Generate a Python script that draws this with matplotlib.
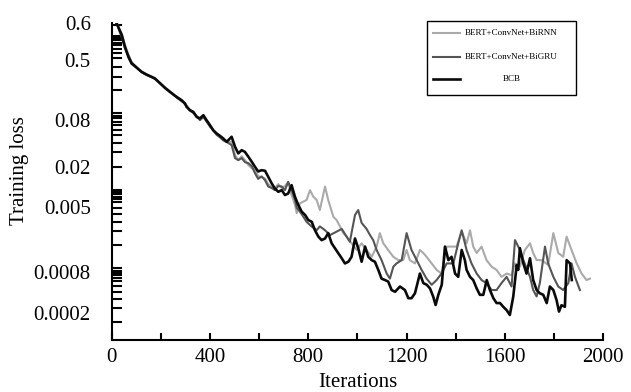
import numpy as np
import matplotlib
matplotlib.use("Agg")
import matplotlib.pyplot as plt
from matplotlib.lines import Line2D
from matplotlib.patches import Rectangle

plt.rcParams['font.family'] = ['Liberation Serif', 'DejaVu Serif']

# (iteration, training loss)
birnn = [(20, 0.600), (41, 0.570), (54, 0.540), (68, 0.515), (81, 0.462), (102, 0.405),
         (122, 0.352), (142, 0.325), (163, 0.302), (176, 0.29), (197, 0.248), (217, 0.218),
         (237, 0.192), (251, 0.172), (264, 0.165), (285, 0.145), (298, 0.13), (305, 0.122),
         (318, 0.106), (332, 0.101), (346, 0.087), (359, 0.082), (373, 0.090), (386, 0.078),
         (400, 0.068), (413, 0.058), (427, 0.053), (441, 0.049), (454, 0.045), (468, 0.043),
         (488, 0.0418), (502, 0.0285), (515, 0.0246), (529, 0.0277), (542, 0.0246), (556, 0.0212),
         (570, 0.0193), (583, 0.018), (596, 0.0146), (610, 0.0141), (624, 0.0135), (637, 0.0111),
         (651, 0.0100), (664, 0.0097), (678, 0.0111), (692, 0.0097), (705, 0.0104), (718, 0.0119),
         (732, 0.0076), (746, 0.0054), (753, 0.0042), (766, 0.0057), (793, 0.0064), (807, 0.0090),
         (820, 0.0072), (834, 0.0064), (847, 0.0046), (868, 0.0102), (881, 0.0064), (902, 0.0038),
         (915, 0.00347), (929, 0.0029), (942, 0.0024), (956, 0.00217), (976, 0.0018), (997, 0.00149),
         (1017, 0.0018), (1037, 0.00149), (1058, 0.00123), (1078, 0.00164), (1091, 0.0024),
         (1105, 0.0018), (1125, 0.00149), (1146, 0.00123), (1166, 0.00112), (1186, 0.00112),
         (1200, 0.00149), (1213, 0.00112), (1234, 0.00102), (1254, 0.00149), (1268, 0.00137),
         (1281, 0.00123), (1302, 0.00102), (1322, 0.00085), (1342, 0.00076), (1363, 0.00164),
         (1383, 0.00164), (1403, 0.00164), (1424, 0.0025), (1444, 0.0018), (1458, 0.0026),
         (1471, 0.00164), (1485, 0.00137), (1505, 0.00164), (1525, 0.00112), (1546, 0.00093),
         (1566, 0.00085), (1586, 0.00068), (1607, 0.00076), (1627, 0.00072), (1641, 0.00102),
         (1661, 0.00093), (1681, 0.00149), (1702, 0.0018), (1715, 0.00137), (1729, 0.00112),
         (1749, 0.00112), (1776, 0.00098), (1797, 0.0024), (1817, 0.00137), (1837, 0.00123),
         (1851, 0.00217), (1871, 0.00149), (1892, 0.00102), (1912, 0.00076), (1932, 0.00061),
         (1946, 0.00064)]

bigru = [(20, 0.600), (41, 0.560), (54, 0.530), (68, 0.512), (81, 0.47), (102, 0.40),
         (122, 0.345), (142, 0.318), (163, 0.296), (176, 0.282), (197, 0.25), (217, 0.212),
         (237, 0.188), (251, 0.178), (264, 0.160), (285, 0.142), (298, 0.135), (305, 0.124),
         (318, 0.108), (332, 0.100), (346, 0.090), (359, 0.080), (373, 0.088), (386, 0.077),
         (400, 0.066), (413, 0.060), (427, 0.052), (441, 0.048), (454, 0.044), (468, 0.042),
         (488, 0.0383), (502, 0.0261), (515, 0.0246), (529, 0.0261), (542, 0.0232), (556, 0.0225),
         (570, 0.0206), (583, 0.0162), (596, 0.0133), (610, 0.0145), (624, 0.0127), (637, 0.0102),
         (651, 0.0097), (664, 0.0090), (678, 0.0104), (692, 0.0102), (705, 0.0090), (718, 0.0120),
         (732, 0.0090), (746, 0.0064), (753, 0.0049), (766, 0.0044), (780, 0.0038), (793, 0.0033),
         (813, 0.0029), (834, 0.0026), (847, 0.0029), (868, 0.0026), (888, 0.00227), (915, 0.0025),
         (936, 0.0027), (956, 0.00217), (969, 0.00188), (990, 0.0040), (1003, 0.0046),
         (1017, 0.0032), (1037, 0.0027), (1051, 0.00227), (1064, 0.00197), (1078, 0.00149),
         (1098, 0.00112), (1119, 0.00076), (1132, 0.00064), (1146, 0.00093), (1159, 0.00102),
         (1180, 0.00112), (1200, 0.0024), (1220, 0.00149), (1241, 0.00112), (1261, 0.00085),
         (1281, 0.00064), (1302, 0.00052), (1322, 0.00061), (1342, 0.00076), (1363, 0.00102),
         (1390, 0.00102), (1410, 0.0018), (1424, 0.0026), (1444, 0.00149), (1464, 0.00102),
         (1485, 0.00076), (1505, 0.00061), (1525, 0.00055), (1546, 0.000435), (1566, 0.000435),
         (1586, 0.00055), (1607, 0.00068), (1627, 0.00049), (1641, 0.00197), (1661, 0.00149),
         (1675, 0.00112), (1702, 0.00068), (1715, 0.000435), (1729, 0.00035), (1742, 0.00055),
         (1763, 0.00164), (1776, 0.00102), (1797, 0.00068), (1817, 0.00049), (1837, 0.000435),
         (1858, 0.00055), (1871, 0.00102), (1885, 0.00068), (1905, 0.000435)]

bcb = [(20, 0.600), (41, 0.566), (54, 0.534), (68, 0.508), (81, 0.452), (102, 0.397),
       (122, 0.350), (142, 0.322), (163, 0.300), (176, 0.286), (197, 0.246), (217, 0.215),
       (237, 0.190), (251, 0.175), (264, 0.163), (285, 0.147), (298, 0.133), (305, 0.120),
       (318, 0.109), (332, 0.103), (346, 0.0885), (359, 0.0845), (373, 0.093), (386, 0.080),
       (400, 0.069), (413, 0.0596), (427, 0.054), (441, 0.0503), (454, 0.0466), (468, 0.0422),
       (488, 0.049), (502, 0.0364), (515, 0.030), (529, 0.033), (542, 0.0314), (556, 0.0272),
       (570, 0.0234), (583, 0.0202), (596, 0.0172), (610, 0.018), (624, 0.0176), (637, 0.0143),
       (651, 0.0114), (664, 0.0095), (678, 0.0085), (692, 0.0090), (705, 0.0076), (718, 0.0080),
       (732, 0.0107), (746, 0.0071), (759, 0.0054), (773, 0.0044), (787, 0.0040), (800, 0.00347),
       (814, 0.0033), (827, 0.0026), (841, 0.00217), (854, 0.00197), (868, 0.00206), (881, 0.0024),
       (895, 0.0018), (908, 0.00157), (922, 0.00136), (936, 0.00118), (949, 0.00102),
       (963, 0.00107), (976, 0.00123), (990, 0.00206), (1003, 0.00157), (1017, 0.00107),
       (1031, 0.00164), (1044, 0.00123), (1058, 0.00112), (1071, 0.00107), (1085, 0.000846),
       (1098, 0.00064), (1112, 0.00061), (1125, 0.00058), (1139, 0.000435), (1153, 0.00041),
       (1173, 0.00049), (1193, 0.000435), (1207, 0.00033), (1220, 0.00033), (1234, 0.00039),
       (1254, 0.00076), (1268, 0.00055), (1282, 0.00052), (1295, 0.00046), (1308, 0.00035),
       (1318, 0.000262), (1329, 0.00037), (1343, 0.00052), (1356, 0.00164), (1370, 0.00112),
       (1383, 0.00123), (1397, 0.00076), (1410, 0.00068), (1424, 0.00149), (1437, 0.00112),
       (1444, 0.00085), (1458, 0.00068), (1471, 0.00061), (1485, 0.00046), (1498, 0.00037),
       (1512, 0.00037), (1526, 0.00061), (1539, 0.000435), (1553, 0.00033), (1566, 0.00028),
       (1580, 0.00028), (1593, 0.000247), (1607, 0.00022), (1620, 0.000187), (1634, 0.00035),
       (1648, 0.000975), (1654, 0.00085), (1661, 0.00157), (1675, 0.00102), (1688, 0.00076),
       (1702, 0.00118), (1715, 0.00061), (1729, 0.000435), (1742, 0.00039), (1756, 0.00037),
       (1770, 0.00028), (1783, 0.00049), (1797, 0.000435), (1810, 0.00031), (1820, 0.00021),
       (1830, 0.00026), (1844, 0.000247), (1851, 0.00112), (1865, 0.00102), (1872, 0.00061)]

labels = ['BERT+ConvNet+BiRNN', 'BERT+ConvNet+BiGRU', 'BCB']
colors = ['#aaaaaa', '#555555', '#0a0a0a']
widths = [1.5, 1.5, 1.9]

# the paper's y axis is a hand-made, piecewise log axis
ytick_vals = [0.6, 0.5, 0.08, 0.02, 0.005, 0.0008, 0.0002]
anchor_vals = [1e-8, 8.0e-5, 2e-4, 8e-4, 5e-3, 2e-2, 8e-2, 0.5, 0.6, 100.0]
anchor_pos = [-3.0, 0.0, 0.0852, 0.2145, 0.4196, 0.5457, 0.6940, 0.8833, 1.0, 3.0]
L = np.log10(anchor_vals)
P = np.array(anchor_pos)


def fwd(v):
    v = np.asarray(v, dtype=float)
    return np.interp(np.log10(np.clip(v, 1e-12, None)), L, P)


def inv(p):
    return 10 ** np.interp(np.asarray(p, dtype=float), P, L)


# minor tick marks, as axis fractions
minor_frac = [0.9959, 0.9599, 0.9536, 0.9464, 0.9391, 0.9306, 0.9202, 0.9076, 0.8905,
              0.8621, 0.8306, 0.7886, 0.7151, 0.7076, 0.7013, 0.6940, 0.6868, 0.6782,
              0.6625, 0.6467, 0.6205, 0.5921, 0.5467, 0.4732, 0.4659, 0.4596, 0.4521,
              0.4448, 0.4363, 0.4174, 0.3975, 0.3732, 0.3438, 0.2997, 0.2262, 0.2186,
              0.2114, 0.2050, 0.1965, 0.1861, 0.1713, 0.1524, 0.1293, 0.1000, 0.0558]

fig = plt.figure(figsize=(6.31, 3.92), dpi=100)
ax = fig.add_axes([0.177, 0.1327, 0.779, 0.808])
ax.set_yscale('function', functions=(fwd, inv))

for series, lab, col, lw in zip([birnn, bigru, bcb], labels, colors, widths):
    xs, ys = zip(*series)
    ax.plot(xs, ys, color=col, lw=lw, label=lab)

ax.set_xlim(0, 2000)
ax.set_ylim(inv(0.0), 0.6)

ax.set_xticks(range(0, 2001, 400))
ax.set_xticks(range(200, 2000, 400), minor=True)
ax.set_yticks(ytick_vals)
ax.set_yticklabels([str(v) for v in ytick_vals])
ax.set_yticks(inv(np.array(minor_frac)), minor=True)
ax.yaxis.set_minor_formatter(plt.NullFormatter())

ax.tick_params(axis='x', which='both', direction='in', length=5, width=1.5, pad=6, labelsize=15)
ax.tick_params(axis='y', which='major', direction='in', length=0, pad=15, labelsize=15)
ax.tick_params(axis='y', which='minor', direction='in', length=7, width=1.5)

for s in ['top', 'right']:
    ax.spines[s].set_visible(False)
for s in ['left', 'bottom']:
    ax.spines[s].set_linewidth(1.5)

ax.set_xlabel('Iterations', fontsize=15)
ax.set_ylabel('Training loss', fontsize=15)
ax.xaxis.set_label_coords(0.5, -0.105)
ax.yaxis.set_label_coords(-0.168, 0.536)

# legend box drawn by hand so the labels sit centred like in the paper
ax.add_patch(Rectangle((0.641, 0.775), 0.303, 0.232, transform=ax.transAxes,
                       fill=False, lw=1.0, ec='black', clip_on=False))
for yy, lab, col, lw in zip([0.968, 0.894, 0.823], labels, colors, widths):
    ax.add_line(Line2D([0.654, 0.709], [yy, yy], transform=ax.transAxes,
                       color=col, lw=lw, clip_on=False))
    ax.text(0.813, yy, lab, transform=ax.transAxes, ha='center', va='center', fontsize=6.5)

fig.savefig('out.png', dpi=100)
